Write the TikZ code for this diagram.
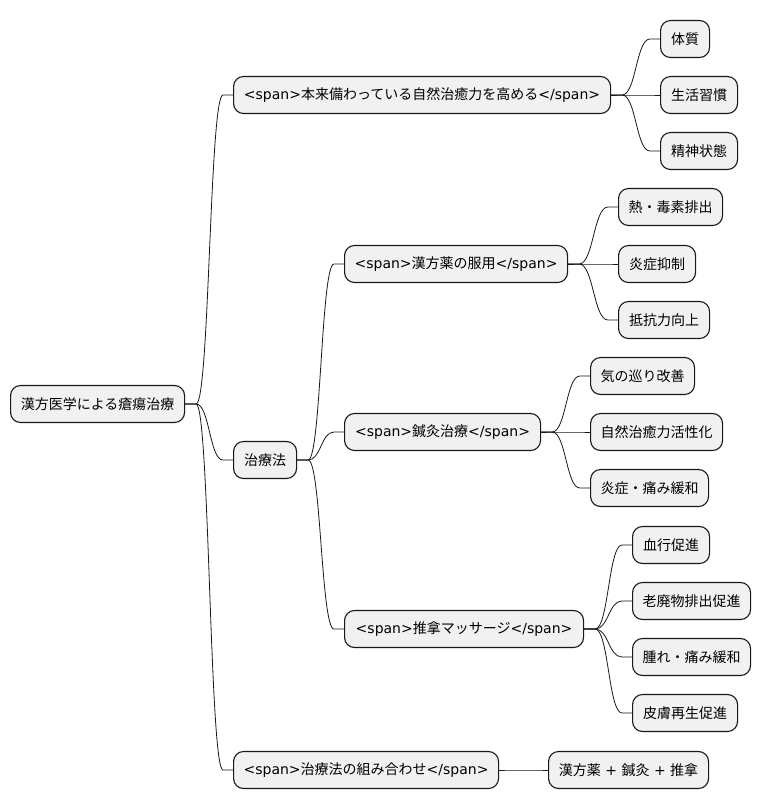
\documentclass[tikz,border=0pt]{standalone}
\usepackage{fontspec}
\usetikzlibrary{calc}
\setmainfont{DejaVu Sans}
\newfontfamily\cjkjp{Noto Sans CJK JP}
\newfontfamily\djsans{DejaVu Sans}
\newcommand\spn[1]{{\djsans<span>}{\cjkjp #1}{\djsans</span>}}
\definecolor{boxfill}{HTML}{F1F1F1}
\definecolor{boxline}{HTML}{181818}
\tikzset{
  mm/.style={draw=boxline, fill=boxfill, rounded corners=10pt, line width=1.1pt,
    minimum height=37pt, inner xsep=3pt, inner ysep=0pt, anchor=west, align=center,
    font=\fontsize{14}{16}\selectfont\cjkjp, text=black},
  conn/.style={draw=boxline, line width=0.8pt},
}
\newcommand\conn[2]{%
  \path let \p1=(#1.east), \p2=(#2.west) in
    [conn] (\p1) -- (\x1+11pt,\y1) .. controls ({(\x1+11pt+\x2-10pt)/2},\y1) and ({(\x1+11pt+\x2-10pt)/2},\y2) .. (\x2-10pt,\y2) -- (\p2);}
\begin{document}
\begin{tikzpicture}[x=1pt,y=-1pt]
\useasboundingbox (0,0) rectangle (761,809);
\node[mm, minimum width=174pt] (root) at (10,404) {漢方医学による瘡瘍治療};
\node[mm, minimum width=377pt] (a) at (233,95) {\spn{本来備わっている自然治癒力を高める}};
\node[mm, minimum width=63pt] (b) at (233,460) {治療法};
\node[mm, minimum width=265pt] (c) at (233,770) {\spn{治療法の組み合わせ}};
\node[mm, minimum width=49pt] (a1) at (660,39) {体質};
\node[mm, minimum width=77pt] (a2) at (660,95) {生活習慣};
\node[mm, minimum width=77pt] (a3) at (660,151) {精神状態};
\node[mm, minimum width=223pt] (b1) at (344,264) {\spn{漢方薬の服用}};
\node[mm, minimum width=196pt] (b2) at (344,432) {\spn{鍼灸治療}};
\node[mm, minimum width=239pt] (b3) at (344,629) {\spn{推拿マッサージ}};
\node[mm, minimum width=104pt] (b11) at (618,207) {熱・毒素排出};
\node[mm, minimum width=77pt] (b12) at (618,264) {炎症抑制};
\node[mm, minimum width=91pt] (b13) at (618,320) {抵抗力向上};
\node[mm, minimum width=104pt] (b21) at (590,376) {気の巡り改善};
\node[mm, minimum width=132pt] (b22) at (590,432) {自然治癒力活性化};
\node[mm, minimum width=118pt] (b23) at (590,488) {炎症・痛み緩和};
\node[mm, minimum width=77pt] (b31) at (632,545) {血行促進};
\node[mm, minimum width=118pt] (b32) at (632,601) {老廃物排出促進};
\node[mm, minimum width=118pt] (b33) at (632,657) {腫れ・痛み緩和};
\node[mm, minimum width=105pt] (b34) at (632,713) {皮膚再生促進};
\node[mm, minimum width=160pt] (c1) at (548,770) {漢方薬{\djsans\ + }鍼灸{\djsans\ + }推拿};
\conn{root}{a}\conn{root}{b}\conn{root}{c}
\conn{a}{a1}\conn{a}{a2}\conn{a}{a3}
\conn{b}{b1}\conn{b}{b2}\conn{b}{b3}
\conn{b1}{b11}\conn{b1}{b12}\conn{b1}{b13}
\conn{b2}{b21}\conn{b2}{b22}\conn{b2}{b23}
\conn{b3}{b31}\conn{b3}{b32}\conn{b3}{b33}\conn{b3}{b34}
\conn{c}{c1}
\end{tikzpicture}
\end{document}
